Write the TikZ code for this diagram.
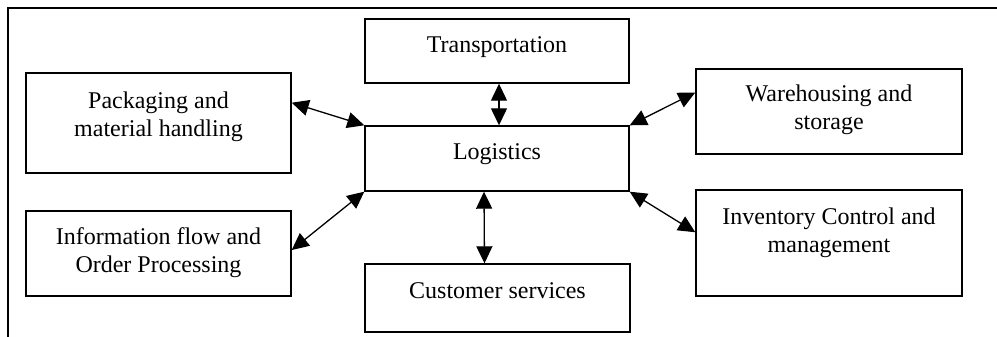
\documentclass[tikz,border=0pt]{standalone}
\usepackage{fontspec}
\setmainfont{Liberation Serif}
\usetikzlibrary{arrows.meta,calc}
\begin{document}
\begin{tikzpicture}[x=1pt,y=-1pt,
  boxnode/.style={draw=black,line width=1.4pt,fill=none,inner sep=0pt},
  txt/.style={inner sep=0pt,align=center,font=\fontsize{24}{28}\selectfont},
  link/.style={line width=1.3pt,{Triangle[length=17pt,width=16pt]}-{Triangle[length=17pt,width=16pt]}},
  frameline/.style={line width=2pt}]
\useasboundingbox (0,0) rectangle (997,337);
% frame
\coordinate (ftr) at (997,8);
\coordinate (ftl) at (8,8);
\coordinate (fbl) at (8,337);
\draw[frameline] (ftr) -- (ftl) -- (fbl);
% boxes
\node[boxnode,minimum width=264pt,minimum height=64pt] (trans) at (497,51) {};
\node[boxnode,minimum width=264pt,minimum height=65pt] (log) at (497,158.5) {};
\node[boxnode,minimum width=265pt,minimum height=68pt] (cust) at (497.5,298) {};
\node[boxnode,minimum width=265pt,minimum height=100pt] (pack) at (158.5,123) {};
\node[boxnode,minimum width=265pt,minimum height=85pt] (info) at (158.5,253.5) {};
\node[boxnode,minimum width=266pt,minimum height=85pt] (ware) at (829,111.5) {};
\node[boxnode,minimum width=266pt,minimum height=106pt] (inv) at (829,243) {};
% texts
\node[txt,anchor=base] (transT) at (497,53) {Transportation};
\node[txt,anchor=base] (logT) at (497,160) {Logistics};
\node[txt,anchor=base] (custT) at (497.5,298) {Customer services};
\node[txt] (packT) at (158.5,116.4) {Packaging and\\material handling};
\node[txt] (infoT) at (158.5,252.4) {Information flow and\\Order Processing};
\node[txt] (wareT) at (829,109.4) {Warehousing and\\storage};
\node[txt] (invT) at (829,232.4) {Inventory Control and\\management};
% connectors
\draw[link] ([xshift=2pt]trans.south) -- ([xshift=2pt]log.north);
\draw[link] ([xshift=-13pt]log.south) -- ([xshift=-13pt]cust.north);
\draw[link] ($(pack.north east)!0.3!(pack.south east)$) -- (log.north west);
\draw[link] ($(info.north east)!0.46!(info.south east)$) -- (log.south west);
\draw[link] ($(ware.north west)!0.28!(ware.south west)$) -- (log.north east);
\draw[link] (log.south east) -- ($(inv.north west)!0.4!(inv.south west)$);
\end{tikzpicture}
\end{document}
